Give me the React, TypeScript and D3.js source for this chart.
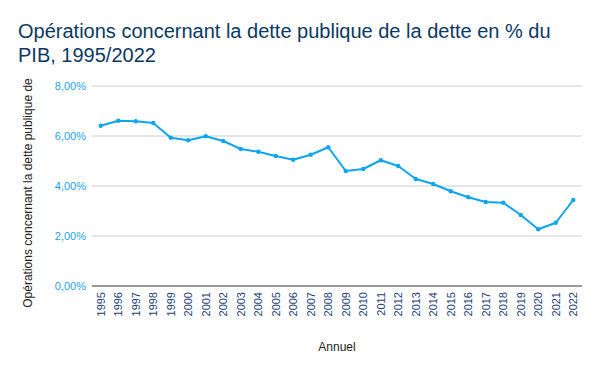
import * as d3 from 'd3';
import { useEffect, useRef } from 'react';

const years = d3.range(1995, 2023).map(String);
const values = [
  6.41, 6.61, 6.59, 6.52, 5.93, 5.83, 5.99, 5.8, 5.48, 5.37, 5.2, 5.05, 5.25, 5.55,
  4.6, 4.68, 5.03, 4.8, 4.28, 4.08, 3.79, 3.55, 3.36, 3.33, 2.84, 2.27, 2.53, 3.44,
];
const yTicks = [0, 2, 4, 6, 8];

const width = 600;
const height = 371;

const App = () => {
  const ref = useRef<SVGSVGElement>(null);

  useEffect(() => {
    const margin = { top: 86, right: 18, bottom: 85, left: 92 };
    const svg = d3.select(ref.current);
    svg.selectAll('*').remove();

    const x = d3
      .scalePoint()
      .domain(years)
      .range([margin.left, width - margin.right])
      .padding(0.5);

    const y = d3
      .scaleLinear()
      .domain([0, 8])
      .range([height - margin.bottom, margin.top]);

    const fmt = (v: number) => v.toFixed(2).replace('.', ',') + '%';

    // title
    svg
      .append('text')
      .attr('fill', '#0b3866')
      .attr('font-size', 20)
      .attr('font-family', 'Liberation Sans, Arial, sans-serif')
      .selectAll('tspan')
      .data(['Opérations concernant la dette publique de la dette en % du', 'PIB, 1995/2022'])
      .join('tspan')
      .attr('x', 18)
      .attr('y', (_, i) => 38 + i * 24)
      .text((d) => d);

    // grid + y labels
    const yg = svg.append('g');
    yg.selectAll('line')
      .data(yTicks.filter((t) => t > 0))
      .join('line')
      .attr('x1', margin.left)
      .attr('x2', width - margin.right)
      .attr('y1', (d) => y(d))
      .attr('y2', (d) => y(d))
      .attr('stroke', '#cccccc');
    yg.selectAll('text')
      .data(yTicks)
      .join('text')
      .attr('x', margin.left - 6)
      .attr('y', (d) => y(d))
      .attr('dy', '0.35em')
      .attr('text-anchor', 'end')
      .attr('fill', '#1aa3ec')
      .attr('font-size', 11)
      .attr('font-family', 'Liberation Sans, Arial, sans-serif')
      .text(fmt);

    // x axis
    svg
      .append('line')
      .attr('x1', margin.left)
      .attr('x2', width - margin.right)
      .attr('y1', y(0))
      .attr('y2', y(0))
      .attr('stroke', '#333');
    svg
      .append('g')
      .selectAll('text')
      .data(years)
      .join('text')
      .attr('transform', (d) => `translate(${x(d)! + 4},${y(0) + 6}) rotate(-90)`)
      .attr('text-anchor', 'end')
      .attr('fill', '#1c3f7a')
      .attr('font-size', 11)
      .attr('font-family', 'Liberation Sans, Arial, sans-serif')
      .text((d) => d);

    // axis titles
    svg
      .append('text')
      .attr('x', (margin.left + width - margin.right) / 2)
      .attr('y', 351)
      .attr('text-anchor', 'middle')
      .attr('font-size', 12)
      .attr('font-family', 'Liberation Sans, Arial, sans-serif')
      .attr('fill', '#222')
      .text('Annuel');
    svg
      .append('text')
      .attr('transform', `translate(32,193) rotate(-90)`)
      .attr('text-anchor', 'middle')
      .attr('font-size', 12)
      .attr('font-family', 'Liberation Sans, Arial, sans-serif')
      .attr('fill', '#222')
      .text('Opérations concernant la dette publique de');

    const line = d3
      .line<number>()
      .x((_, i) => x(years[i])!)
      .y((d) => y(d));

    svg
      .append('path')
      .datum(values)
      .attr('fill', 'none')
      .attr('stroke', '#0ea5ef')
      .attr('stroke-width', 2)
      .attr('stroke-linejoin', 'round')
      .attr('d', line);

    svg
      .append('g')
      .selectAll('circle')
      .data(values)
      .join('circle')
      .attr('cx', (_, i) => x(years[i])!)
      .attr('cy', (d) => y(d))
      .attr('r', 2.2)
      .attr('fill', '#0ea5ef');
  }, []);

  return (
    <svg
      ref={ref}
      width={width}
      height={height}
      style={{ position: 'absolute', left: 0, top: 0, background: '#fff' }}
    />
  );
};

export default App;
